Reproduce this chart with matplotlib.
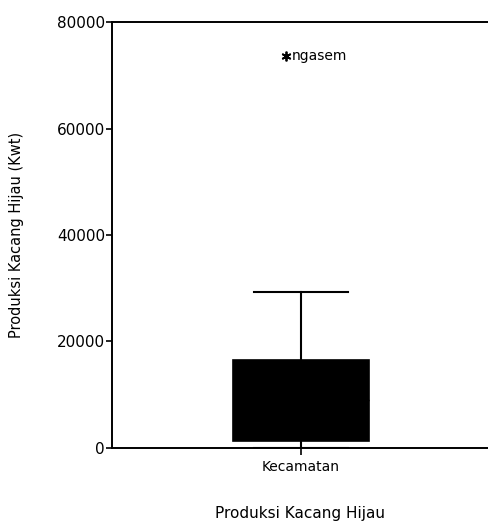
import matplotlib
matplotlib.use("Agg")
import matplotlib.pyplot as plt

categories = ["Kecamatan"]
q1 = [1300]
median = [9000]
q3 = [16500]
whisker_low = [0]
whisker_high = [29300]
outliers = [[73600]]
outlier_labels = [["ngasem"]]
yticks = [0, 20000, 40000, 60000, 80000]

fig = plt.figure(figsize=(4.89, 5.27), dpi=100)
ax = fig.add_axes([0.229, 0.150, 0.78, 0.808])

stats = []
for i, c in enumerate(categories):
    stats.append(dict(label=c, q1=q1[i], med=median[i], q3=q3[i],
                      whislo=whisker_low[i], whishi=whisker_high[i],
                      fliers=[]))

ax.bxp(stats, positions=[1], widths=0.36, patch_artist=True,
       showfliers=False,
       boxprops=dict(facecolor="black", edgecolor="black", linewidth=1.2),
       medianprops=dict(color="black", linewidth=1),
       whiskerprops=dict(color="black", linewidth=1.5),
       capprops=dict(color="black", linewidth=1.5),
       capwidths=0.25)

for i, vals in enumerate(outliers):
    for v, lab in zip(vals, outlier_labels[i]):
        ax.plot([0.962], [v], marker=(6, 2, 0), color="black", markersize=7,
                markeredgewidth=1.3, linestyle="none")
        ax.text(0.975, v, lab, va="center", ha="left", fontsize=10)

ax.set_xlim(0.5, 1.51)
ax.set_ylim(0, 80000)
ax.set_yticks(yticks)
ax.set_yticklabels([str(t) for t in yticks], fontsize=11, fontweight="medium")
ax.set_xticks([1])
ax.set_xticklabels(categories, fontsize=10)
ax.tick_params(axis="y", length=4, width=1.2, pad=1)
ax.tick_params(axis="x", length=5, width=1.2)
for s in ["left", "bottom", "top"]:
    ax.spines[s].set_linewidth(1.4)
ax.spines["right"].set_visible(False)

ax.set_ylabel("Produksi Kacang Hijau (Kwt)", fontsize=10.5)
ax.yaxis.set_label_coords(-0.231, 0.5)
ax.set_xlabel("Produksi Kacang Hijau", fontsize=11)
ax.xaxis.set_label_coords(0.493, -0.136)

fig.savefig("out.png", dpi=100)
